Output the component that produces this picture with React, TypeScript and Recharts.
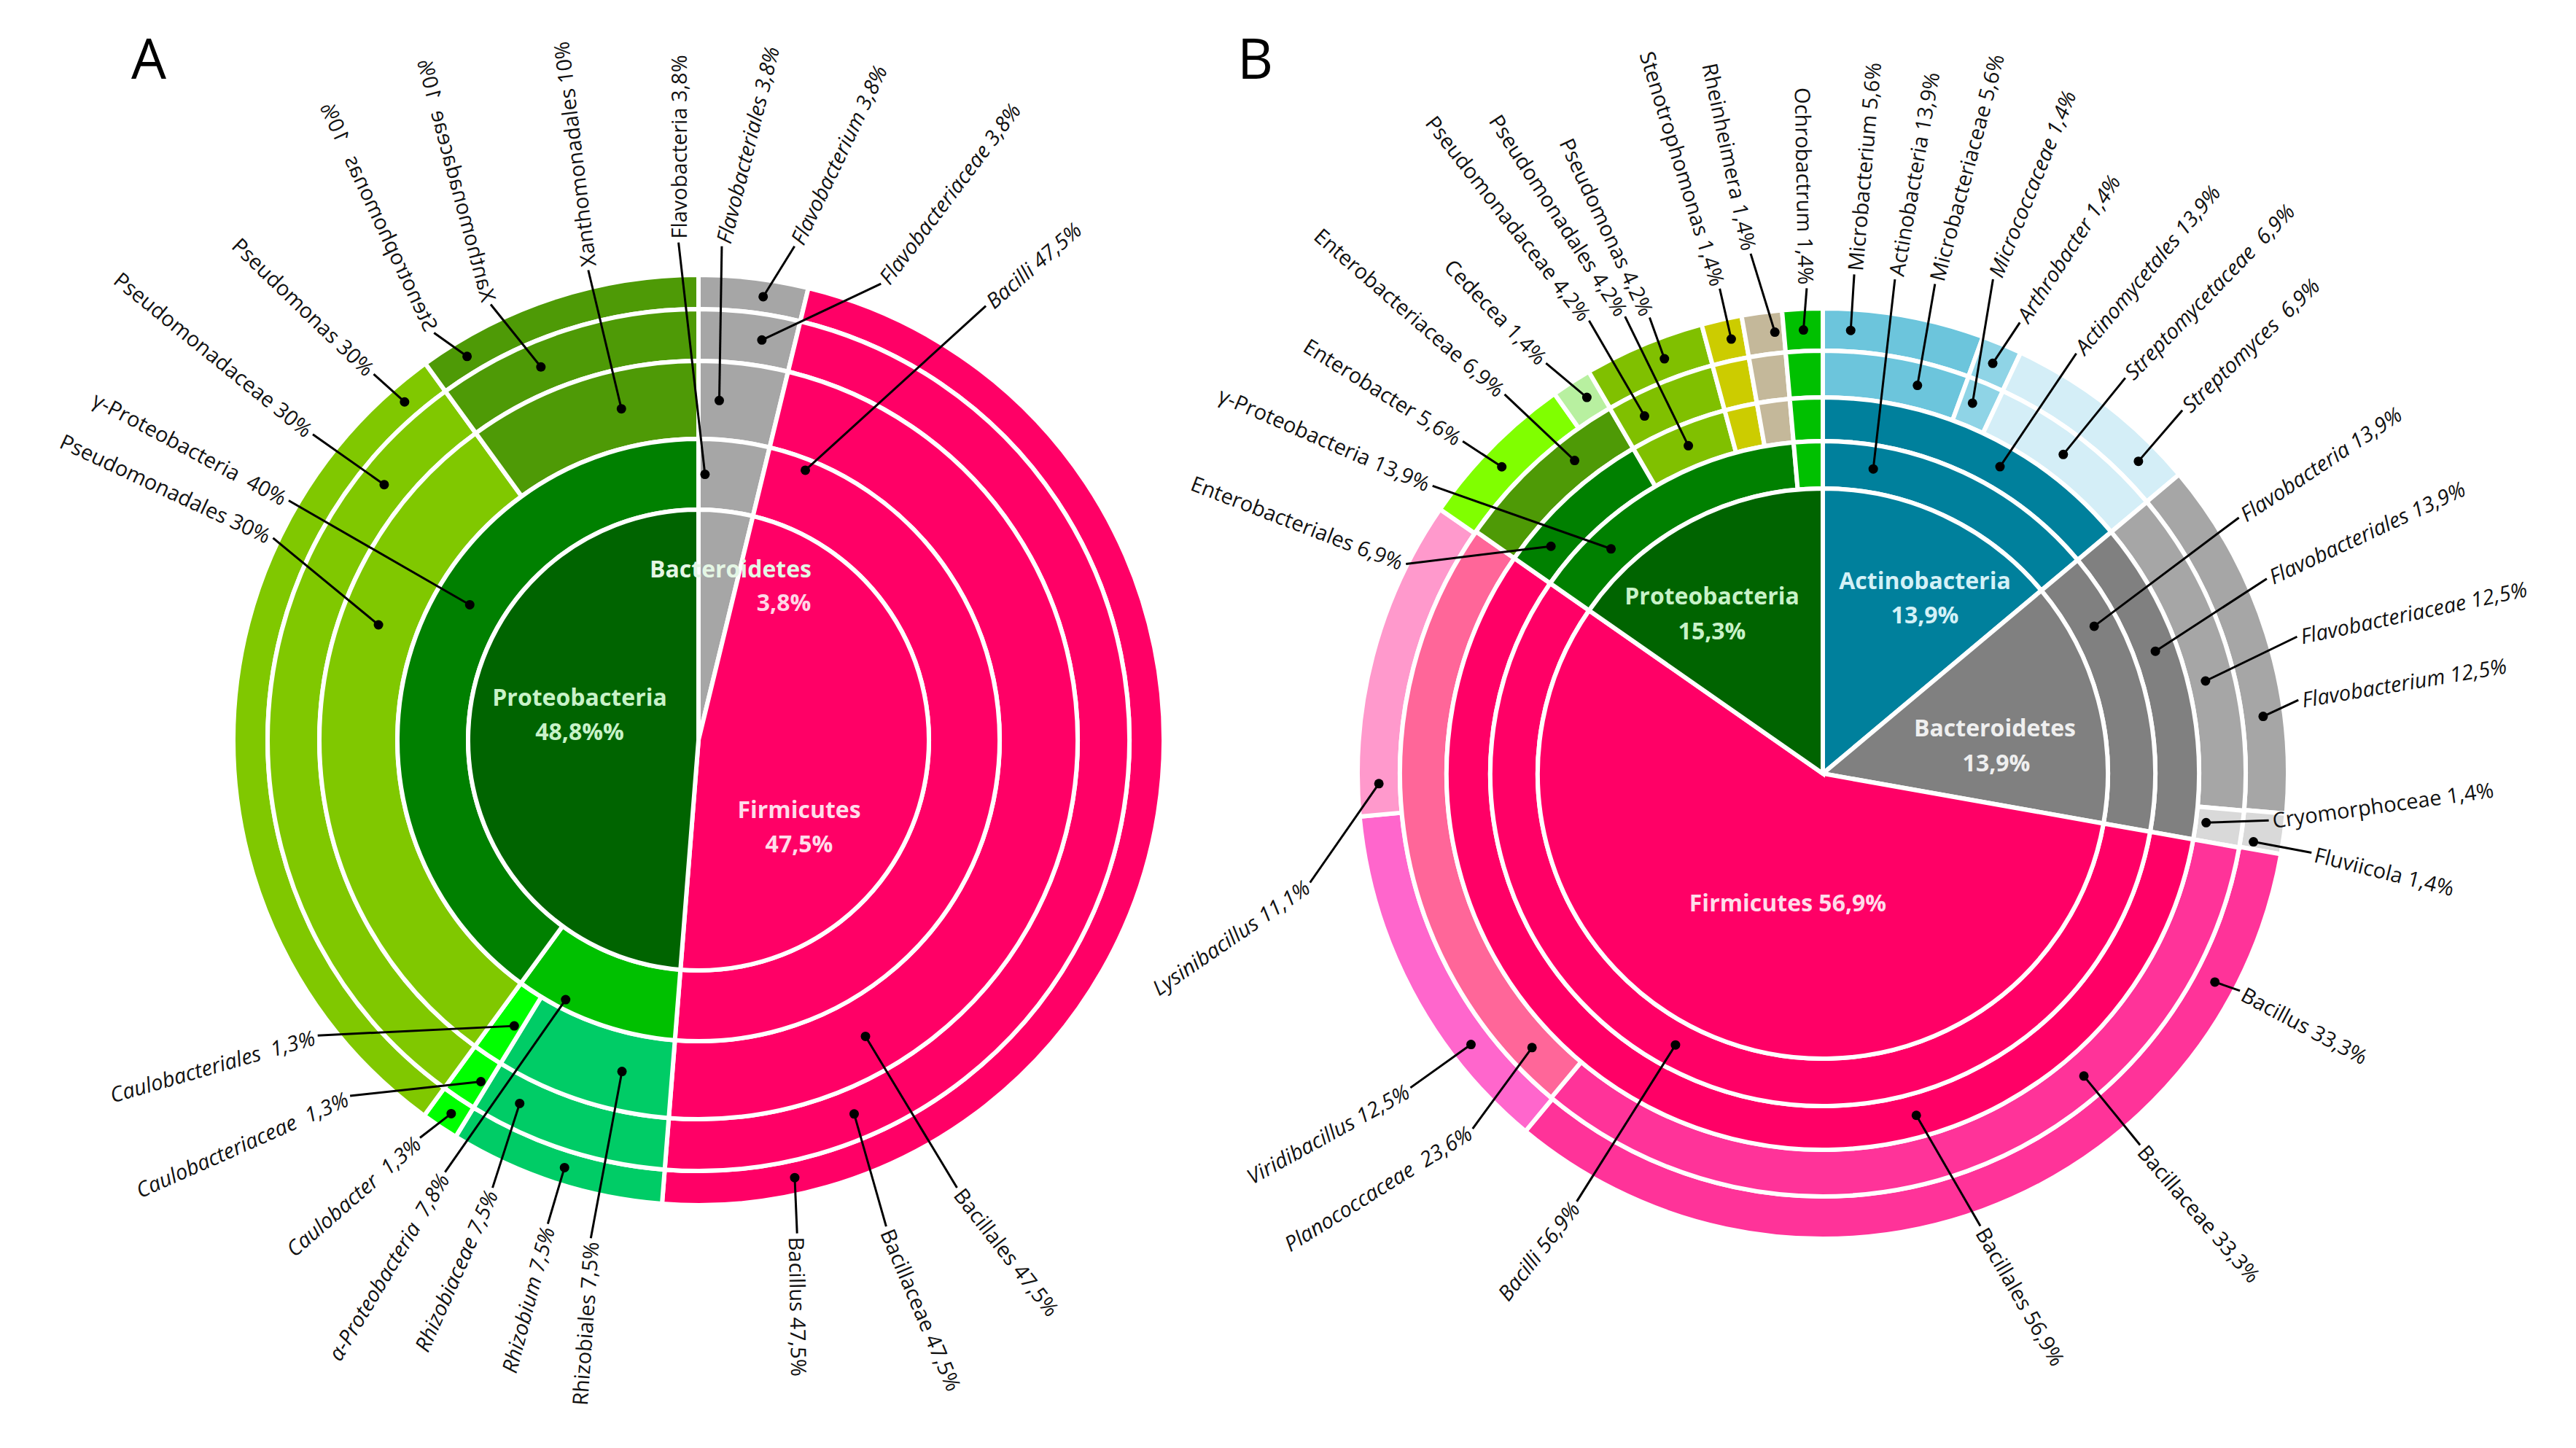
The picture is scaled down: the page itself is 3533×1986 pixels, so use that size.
import { PieChart, Pie, Cell } from "recharts"

const W = 3533
const H = 1986
const FONT = "'Open Sans', 'DejaVu Sans', sans-serif"

// ---------- A ----------
const aPhylum = [
  { name: "Bacteroidetes", value: 3.8, pct: "3,8%" },
  { name: "Firmicutes", value: 47.5, pct: "47,5%" },
  { name: "Proteobacteria", value: 48.8, pct: "48,8%%" },
]
const aClass = [
  { name: "Flavobacteria", value: 3.8, pct: "3,8%" },
  { name: "Bacilli", value: 47.5, pct: "47,5%" },
  { name: "α-Proteobacteria", value: 8.8, pct: " 7,8%" },
  { name: "γ-Proteobacteria", value: 40, pct: " 40%" },
]
const aOrder = [
  { name: "Flavobacteriales", value: 3.8, pct: "3,8%" },
  { name: "Bacillales", value: 47.5, pct: "47,5%" },
  { name: "Rhizobiales", value: 7.5, pct: "7,5%" },
  { name: "Caulobacteriales", value: 1.3, pct: " 1,3%" },
  { name: "Pseudomonadales", value: 30, pct: "30%" },
  { name: "Xanthomonadales", value: 10, pct: "10%" },
]
const aFamily = [
  { name: "Flavobacteriaceae", value: 3.8, pct: "3,8%" },
  { name: "Bacillaceae", value: 47.5, pct: "47,5%" },
  { name: "Rhizobiaceae", value: 7.5, pct: "7,5%" },
  { name: "Caulobacteriaceae", value: 1.3, pct: " 1,3%" },
  { name: "Pseudomonadaceae", value: 30, pct: "30%" },
  { name: "Xanthomonadaceae", value: 10, pct: " 10%" },
]
const aGenus = [
  { name: "Flavobacterium", value: 3.8, pct: "3,8%" },
  { name: "Bacillus", value: 47.5, pct: "47,5%" },
  { name: "Rhizobium", value: 7.5, pct: "7,5%" },
  { name: "Caulobacter", value: 1.3, pct: " 1,3%" },
  { name: "Pseudomonas", value: 30, pct: "30%" },
  { name: "Stenotrophomonas", value: 10, pct: "  10%" },
]

const aPhylumColors = ["#a6a6a6", "#ff0066", "#006400"]
const aClassColors = ["#a6a6a6", "#ff0066", "#00c000", "#008000"]
const aLowColors = ["#a6a6a6", "#ff0066", "#00cc66", "#00ff00", "#80c800", "#4e9a06"]

// ---------- B ----------
const bPhylum = [
  { name: "Actinobacteria", value: 13.9, pct: "13,9%" },
  { name: "Bacteroidetes", value: 13.9, pct: "13,9%" },
  { name: "Firmicutes", value: 56.9, pct: "56,9%" },
  { name: "Proteobacteria", value: 15.3, pct: "15,3%" },
]
const bClass = [
  { name: "Actinobacteria", value: 13.9, pct: "13,9%" },
  { name: "Flavobacteria", value: 13.9, pct: "13,9%" },
  { name: "Bacilli", value: 56.9, pct: "56,9%" },
  { name: "γ-Proteobacteria", value: 13.9, pct: "13,9%" },
  { name: "α-Proteobacteria", value: 1.4, pct: "1,4%" },
]
const bOrder = [
  { name: "Actinomycetales", value: 13.9, pct: "13,9%" },
  { name: "Flavobacteriales", value: 13.9, pct: "13,9%" },
  { name: "Bacillales", value: 56.9, pct: "56,9%" },
  { name: "Enterobacteriales", value: 6.9, pct: "6,9%" },
  { name: "Pseudomonadales", value: 4.2, pct: "4,2%" },
  { name: "Xanthomonadales", value: 1.4, pct: "1,4%" },
  { name: "Alteromonadales", value: 1.4, pct: "1,4%" },
  { name: "Rhizobiales", value: 1.4, pct: "1,4%" },
]
const bFamily = [
  { name: "Microbacteriaceae", value: 5.6, pct: "5,6%" },
  { name: "Micrococcaceae", value: 1.4, pct: "1,4%" },
  { name: "Streptomycetaceae", value: 6.9, pct: " 6,9%" },
  { name: "Flavobacteriaceae", value: 12.5, pct: "12,5%" },
  { name: "Cryomorphoceae", value: 1.4, pct: "1,4%" },
  { name: "Bacillaceae", value: 33.3, pct: "33,3%" },
  { name: "Planococcaceae", value: 23.6, pct: " 23,6%" },
  { name: "Enterobacteriaceae", value: 6.9, pct: "6,9%" },
  { name: "Pseudomonadaceae", value: 4.2, pct: "4,2%" },
  { name: "Xanthomonadaceae", value: 1.4, pct: "1,4%" },
  { name: "Chromatiaceae", value: 1.4, pct: "1,4%" },
  { name: "Brucellaceae", value: 1.4, pct: "1,4%" },
]
const bGenus = [
  { name: "Microbacterium", value: 5.6, pct: "5,6%" },
  { name: "Arthrobacter", value: 1.4, pct: "1,4%" },
  { name: "Streptomyces", value: 6.9, pct: " 6,9%" },
  { name: "Flavobacterium", value: 12.5, pct: "12,5%" },
  { name: "Fluviicola", value: 1.4, pct: "1,4%" },
  { name: "Bacillus", value: 33.3, pct: "33,3%" },
  { name: "Viridibacillus", value: 12.5, pct: "12,5%" },
  { name: "Lysinibacillus", value: 11.1, pct: "11,1%" },
  { name: "Enterobacter", value: 5.6, pct: "5,6%" },
  { name: "Cedecea", value: 1.4, pct: "1,4%" },
  { name: "Pseudomonas", value: 4.2, pct: "4,2%" },
  { name: "Stenotrophomonas", value: 1.4, pct: "1,4%" },
  { name: "Rheinheimera", value: 1.4, pct: "1,4%" },
  { name: "Ochrobactrum", value: 1.4, pct: "1,4%" },
]

const bPhylumColors = ["#00809c", "#808080", "#ff0066", "#006400"]
const bClassColors = ["#00809c", "#808080", "#ff0066", "#008000", "#00c000"]
const bOrderColors = ["#00809c", "#808080", "#ff0066", "#008000", "#80c000", "#cccc00", "#c4b89a", "#00c000"]
const bFamilyColors = [
  "#6cc5dc", "#8fd4e6", "#d4eef7", "#a6a6a6", "#d9d9d9", "#ff3399",
  "#ff6699", "#4e9a06", "#80c000", "#cccc00", "#c4b89a", "#00c000",
]
const bGenusColors = [
  "#6cc5dc", "#8fd4e6", "#d4eef7", "#a6a6a6", "#d9d9d9", "#ff3399", "#ff66cc",
  "#ff99cc", "#80ff00", "#b8f0a0", "#80c000", "#cccc00", "#c4b89a", "#00c000",
]

// ---------- label layout (angles clockwise from 12 o'clock) ----------
type Spec = { a: number; ea: number; er: number; rot: number; it?: boolean; mir?: boolean; dr?: number } | null

const aClassLbl: Spec[] = [
  { a: 1.4, ea: -2.3, er: 683, rot: -90 },
  { a: 21.6, dr: 398, ea: 33.5, er: 714, rot: -41, it: true },
  { a: 207.1, dr: 400, ea: 210.4, er: 687, rot: -59, it: true },
  { a: 300.6, ea: 300.3, er: 651, rot: 28 },
]
const aOrderLbl: Spec[] = [
  { a: 3.5, ea: 2.7, er: 678, rot: -76, it: true },
  { a: 150.6, ea: 150, er: 709, rot: 52 },
  { a: 193, ea: 192.2, er: 699, rot: -86 },
  { a: 212.8, ea: 232.2, er: 661, rot: -16, it: true },
  { a: 289.8, ea: 295.4, er: 646, rot: 25 },
  { a: 346.9, ea: 346.8, er: 662, rot: -97 },
]
const aFamilyLbl: Spec[] = [
  { a: 9, ea: 21.8, er: 674, rot: -53, it: true },
  { a: 157.4, ea: 158.9, er: 715, rot: 67 },
  { a: 206.2, ea: 204.7, er: 676, rot: -66, it: true },
  { a: 212.5, ea: 224.4, er: 683, rot: -24, it: true },
  { a: 309.1, ea: 308.4, er: 675, rot: 39 },
  { a: 337.1, ea: 334.5, er: 662, rot: -105, mir: true },
]
const aGenusLbl: Spec[] = [
  { a: 8.3, ea: 11, er: 690, rot: -64.5, it: true },
  { a: 167.6, ea: 168.7, er: 690, rot: 89 },
  { a: 197.4, ea: 197.3, er: 695, rot: -75, it: true },
  { a: 213.5, ea: 215, er: 666, rot: -41, it: true },
  { a: 319, ea: 318.4, er: 671, rot: 44 },
  { a: 328.9, ea: 327, er: 666, rot: -115, mir: true },
]

const bClassLbl: Spec[] = [
  { a: 9.4, ea: 8.3, er: 685, rot: -80 },
  { a: 61.5, ea: 58.4, er: 670, rot: -33.5, it: true },
  { a: 208.5, ea: 209.9, er: 677, rot: -52, it: true },
  { a: 316.7, ea: 306.4, er: 665, rot: 23.5 },
  null,
]
const bOrderLbl: Spec[] = [
  { a: 30, ea: 31.1, er: 673, rot: -50, it: true },
  { a: 69.8, ea: 66.3, er: 665, rot: -25, it: true },
  { a: 164.7, ea: 160.8, er: 657, rot: 60 },
  { a: 309.9, ea: 296.7, er: 640, rot: 21 },
  { a: 337.7, ea: 336.6, er: 683, rot: 57 },
  null,
  null,
  null,
]
const bFamilyLbl: Spec[] = [
  { a: 13.7, ea: 12.9, er: 689, rot: -75 },
  { a: 22, ea: 19, er: 717, rot: -68, it: true },
  { a: 37, ea: 37.4, er: 683, rot: -46, it: true },
  { a: 76.4, dr: 540, ea: 73.9, er: 677, rot: -12, it: true },
  { a: 97.3, dr: 530, ea: 96, er: 615, rot: -8 },
  { a: 139.2, ea: 139.5, er: 670, rot: 49 },
  { a: 226.7, ea: 224.6, er: 684, rot: -32, it: true },
  { a: 321.6, ea: 320, er: 679, rot: 41 },
  { a: 333.5, ea: 332.7, er: 699, rot: 52 },
  null,
  null,
  null,
]
const bGenusLbl: Spec[] = [
  { a: 3.6, ea: 3.6, er: 686, rot: -85 },
  { a: 22.5, ea: 23.6, er: 675, rot: -57, it: true },
  { a: 45.3, ea: 44.7, er: 701, rot: -44, it: true },
  { a: 82.6, ea: 81.2, er: 660, rot: -9.6, it: true },
  { a: 99, dr: 598, ea: 99.2, er: 679, rot: 14 },
  { a: 118, ea: 117.5, er: 645, rot: 28 },
  { a: 232.4, ea: 232.7, er: 711, rot: -29, it: true },
  { a: 268.7, ea: 258, er: 719, rot: -34.5, it: true },
  { a: 313.7, ea: 312.7, er: 672, rot: 32 },
  { a: 327.9, ea: 326, er: 679, rot: 46 },
  { a: 339.1, ea: 339.2, er: 669, rot: 65 },
  { a: 348.1, ea: 348, er: 680, rot: 73 },
  { a: 353.8, ea: 352.1, er: 720, rot: 78 },
  { a: 357.5, ea: 358.1, er: 666, rot: 89 },
]

// inner (phylum) labels: offsets from the pie centre
type Inner = { n: [number, number]; p?: [number, number]; c: string; pc?: string }
const aInner: Inner[] = [
  { n: [44, -236], p: [117, -190], c: "#e4f6e4", pc: "#ffd6e6" },
  { n: [138, 94], p: [138, 141], c: "#ffdcea" },
  { n: [-163, -60], p: [-163, -13], c: "#c8f2c8" },
]
const bInner: Inner[] = [
  { n: [140, -266], p: [140, -219], c: "#d4f1f7" },
  { n: [236, -64], p: [238, -16], c: "#efefef" },
  { n: [-48, 176], c: "#ffdcea" },
  { n: [-152, -245], p: [-152, -197], c: "#c8f2c8" },
]

const RAD = Math.PI / 180
const polar = (cx: number, cy: number, r: number, t: number) => [cx + r * Math.sin(t * RAD), cy - r * Math.cos(t * RAD)]

const leader = (data: { name: string; pct: string }[], specs: Spec[]) => (props: any) => {
  const s = specs[props.index]
  if (!s) return null
  const { cx, cy, innerRadius, outerRadius } = props
  const dr = s.dr ?? (innerRadius + outerRadius) / 2
  const [x1, y1] = polar(cx, cy, dr, s.a)
  const [x2, y2] = polar(cx, cy, s.er, s.ea)
  const ux = Math.cos(s.rot * RAD)
  const uy = Math.sin(s.rot * RAD)
  const out = ux * (x2 - x1) + uy * (y2 - y1) >= 0
  const d = data[props.index]
  return (
    <g>
      <line x1={x1} y1={y1} x2={x2} y2={y2} stroke="#000" strokeWidth={3} />
      <circle cx={x1} cy={y1} r={6.5} fill="#000" />
      <text
        transform={`translate(${x2},${y2}) rotate(${s.rot})${s.mir ? " scale(1,-1)" : ""}`}
        x={out ? 5 : -5}
        y={0}
        dominantBaseline="central"
        textAnchor={out ? "start" : "end"}
        fontFamily={FONT}
        fontSize={29}
        fontStyle={s.it ? "italic" : "normal"}
        fill="#111"
        style={{ whiteSpace: "pre" }}
      >
        {`${d.name} ${d.pct}`}
      </text>
    </g>
  )
}

const innerLabel = (data: { name: string; pct: string }[], lay: Inner[]) => (props: any) => {
  const l = lay[props.index]
  const d = data[props.index]
  const { cx, cy } = props
  const common = {
    textAnchor: "middle" as const,
    dominantBaseline: "central" as const,
    fontFamily: FONT,
    fontSize: 32,
    fontWeight: 700,
  }
  return (
    <g>
      <text x={cx + l.n[0]} y={cy + l.n[1]} fill={l.c} {...common}>
        {l.p ? d.name : `${d.name} ${d.pct}`}
      </text>
      {l.p && (
        <text x={cx + l.p[0]} y={cy + l.p[1]} fill={l.pc ?? l.c} {...common}>
          {d.pct}
        </text>
      )}
    </g>
  )
}

type Ring = { data: any[]; colors: string[]; r0: number; r1: number; specs?: Spec[]; inner?: Inner[] }

const ringsA: Ring[] = [
  { data: aGenus, colors: aLowColors, r0: 591, r1: 638, specs: aGenusLbl },
  { data: aFamily, colors: aLowColors, r0: 520, r1: 591, specs: aFamilyLbl },
  { data: aOrder, colors: aLowColors, r0: 413, r1: 520, specs: aOrderLbl },
  { data: aClass, colors: aClassColors, r0: 316, r1: 413, specs: aClassLbl },
  { data: aPhylum, colors: aPhylumColors, r0: 0, r1: 316, inner: aInner },
]
const ringsB: Ring[] = [
  { data: bGenus, colors: bGenusColors, r0: 580, r1: 638, specs: bGenusLbl },
  { data: bFamily, colors: bFamilyColors, r0: 516, r1: 580, specs: bFamilyLbl },
  { data: bOrder, colors: bOrderColors, r0: 456, r1: 516, specs: bOrderLbl },
  { data: bClass, colors: bClassColors, r0: 391, r1: 456, specs: bClassLbl },
  { data: bPhylum, colors: bPhylumColors, r0: 0, r1: 391, inner: bInner },
]

function renderRings(rings: Ring[], cx: number, cy: number, key: string) {
  return rings.map((r, k) => (
    <Pie
      key={`${key}${k}`}
      data={r.data}
      dataKey="value"
      nameKey="name"
      cx={cx}
      cy={cy}
      innerRadius={r.r0}
      outerRadius={r.r1}
      startAngle={90}
      endAngle={-270}
      stroke="#ffffff"
      strokeWidth={6}
      isAnimationActive={false}
      labelLine={false}
      label={r.inner ? innerLabel(r.data, r.inner) : leader(r.data, r.specs as Spec[])}
    >
      {r.data.map((_, i) => (
        <Cell key={i} fill={r.colors[i]} />
      ))}
    </Pie>
  ))
}

export default function App() {
  return (
    <div style={{ position: "absolute", left: 0, top: 0, width: W, height: H, background: "#fff" }}>
      <PieChart width={W} height={H} margin={{ top: 0, right: 0, bottom: 0, left: 0 }}>
        {renderRings(ringsA, 958, 1015, "a")}
        {renderRings(ringsB, 2500, 1061, "b")}
      </PieChart>
      <svg width={W} height={H} style={{ position: "absolute", left: 0, top: 0, pointerEvents: "none" }}>
        <text x={180} y={108} fontFamily={FONT} fontSize={76} fill="#000">A</text>
        <text x={1697} y={108} fontFamily={FONT} fontSize={76} fill="#000">B</text>
      </svg>
    </div>
  )
}
